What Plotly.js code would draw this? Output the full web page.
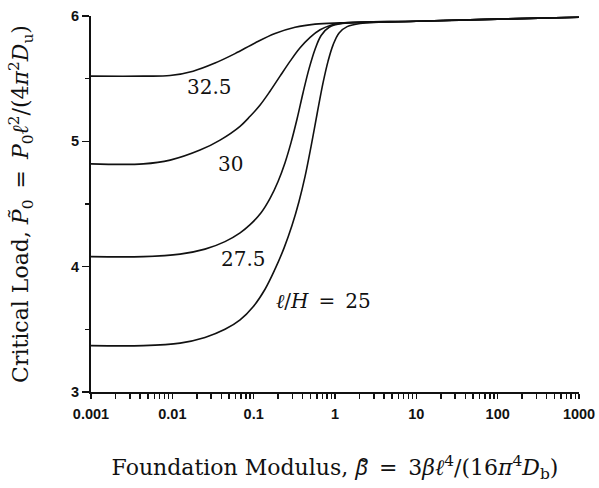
<!DOCTYPE html>
<html>
<head>
<meta charset="utf-8">
<script src="https://cdn.plot.ly/plotly-3.0.1.min.js"></script>
<style>html,body{margin:0;padding:0;background:#fff;}#chart{width:599px;height:488px;}</style>
</head>
<body>
<div id="chart"></div>
<script>
// Foundation modulus (x, log scale) and critical load (y) for each l/H curve
const x325 = [0.001, 0.0044, 0.00937, 0.018, 0.0335, 0.059, 0.104, 0.183, 0.323, 0.569, 1.16, 10, 100, 1000];
const y325 = [5.52, 5.52, 5.525, 5.56, 5.625, 5.70, 5.785, 5.86, 5.91, 5.935, 5.945, 5.958, 5.975, 5.99];

const x30 = [0.001, 0.0044, 0.0094, 0.0219, 0.0386, 0.068, 0.0904, 0.12, 0.159, 0.211, 0.281, 0.37, 0.494, 0.656, 0.871, 1.33, 10, 100, 1000];
const y30 = [4.82, 4.82, 4.85, 4.93, 5.01, 5.12, 5.20, 5.29, 5.40, 5.52, 5.64, 5.745, 5.83, 5.89, 5.925, 5.945, 5.958, 5.975, 5.99];

const x275 = [0.001, 0.0044, 0.01245, 0.0252, 0.0444, 0.0681, 0.0904, 0.1233, 0.159, 0.1995, 0.243, 0.288, 0.342, 0.4055, 0.480, 0.569, 0.675, 0.847, 1.22, 10, 100, 1000];
const y275 = [4.08, 4.08, 4.10, 4.14, 4.20, 4.27, 4.335, 4.43, 4.545, 4.68, 4.83, 4.99, 5.18, 5.39, 5.58, 5.735, 5.845, 5.91, 5.94, 5.958, 5.975, 5.99];

const x25 = [0.001, 0.0044, 0.01245, 0.0252, 0.0444, 0.0681, 0.0985, 0.138, 0.183, 0.2366, 0.2965, 0.361, 0.4285, 0.508, 0.6026, 0.7145, 0.822, 0.948, 1.123, 1.41, 2.04, 10, 100, 1000];
const y25 = [3.37, 3.37, 3.39, 3.435, 3.50, 3.575, 3.68, 3.82, 3.98, 4.15, 4.33, 4.52, 4.72, 4.96, 5.22, 5.47, 5.64, 5.77, 5.865, 5.915, 5.94, 5.958, 5.975, 5.99];

// Curve labels: text and the (x, y) data point of each label's left edge
const curveLabels = ["32.5", "30", "27.5", "<i>ℓ</i>/<i>H</i>\u2002=\u200225"];
const labelX = [0.0145, 0.0345, 0.0376, 0.18];
const labelY = [5.43, 4.82, 4.06, 3.73];

// Axis ticks: labelled decades plus unlabelled minor ticks (2..9 of each decade)
const decades = [0.001, 0.01, 0.1, 1, 10, 100, 1000];
const decadeText = ["0.001", "0.01", "0.1", "1", "10", "100", "1000"];
const minorDigits = [2, 3, 4, 5, 6, 7, 8, 9];
const xTickVals = [];
const xTickText = [];
decades.forEach((d, i) => {
  xTickVals.push(d); xTickText.push(decadeText[i]);
  if (i < decades.length - 1) minorDigits.forEach(m => { xTickVals.push(d * m); xTickText.push(""); });
});

const serif = "DejaVu Serif, Liberation Serif, serif";
const sans = "Liberation Sans, Arial, sans-serif";
const lineStyle = {color: "#111", width: 1.6, shape: "spline", smoothing: 1};
const series = [[x325, y325], [x30, y30], [x275, y275], [x25, y25]];
const traces = series.map(s => ({
  x: s[0], y: s[1], type: "scatter", mode: "lines", line: lineStyle,
  hoverinfo: "skip", showlegend: false
}));

const annotations = curveLabels.map((t, i) => ({
  x: Math.log10(labelX[i]), y: labelY[i], xref: "x", yref: "y",
  text: t, showarrow: false, xanchor: "left", yanchor: "middle",
  font: {family: serif, size: 20, color: "#111"}
}));

const layout = {
  width: 599, height: 488,
  margin: {l: 91, r: 20, t: 16, b: 96},
  paper_bgcolor: "#fff", plot_bgcolor: "#fff",
  showlegend: false,
  font: {family: serif, color: "#111"},
  xaxis: {
    type: "log", range: [-3, 3],
    showline: true, linecolor: "#111", linewidth: 2,
    showgrid: false, zeroline: false,
    tickmode: "array", tickvals: xTickVals, ticktext: xTickText, tickangle: 0,
    ticks: "outside", ticklen: 5, tickwidth: 1.5, tickcolor: "#111",
    ticklabelstandoff: 3,
    tickfont: {family: sans, size: 14.5, weight: "bold", color: "#111"},
    title: {
      text: "Foundation Modulus, <span style=\"font-family:'Noto Sans'\"><i>β̃</i></span>\u2002=\u20023<i>βℓ</i><sup>4</sup>/(16<i>π</i><sup>4</sup><i>D</i><sub>b</sub>)",
      font: {family: serif, size: 22, color: "#111"}, standoff: 38
    }
  },
  yaxis: {
    range: [3, 6],
    showline: true, linecolor: "#111", linewidth: 2,
    showgrid: false, zeroline: false,
    tickmode: "linear", tick0: 3, dtick: 1,
    ticks: "outside", ticklen: 7, tickwidth: 1.5, tickcolor: "#111",
    minor: {ticks: "outside", ticklen: 4, tickwidth: 1.5, tickcolor: "#111", dtick: 0.5, showgrid: false},
    tickfont: {family: sans, size: 14.5, weight: "bold", color: "#111"},
    title: {
      text: "Critical Load, <i>P̃</i><sub>0</sub>\u2002=\u2002<i>P</i><sub>0</sub><i>ℓ</i><sup>2</sup>/(4<i>π</i><sup>2</sup><i>D</i><sub>u</sub>)",
      font: {family: serif, size: 22, color: "#111"}, standoff: 36
    }
  },
  annotations: annotations
};

Plotly.newPlot("chart", traces, layout, {displayModeBar: false, staticPlot: true});
</script>
</body>
</html>
